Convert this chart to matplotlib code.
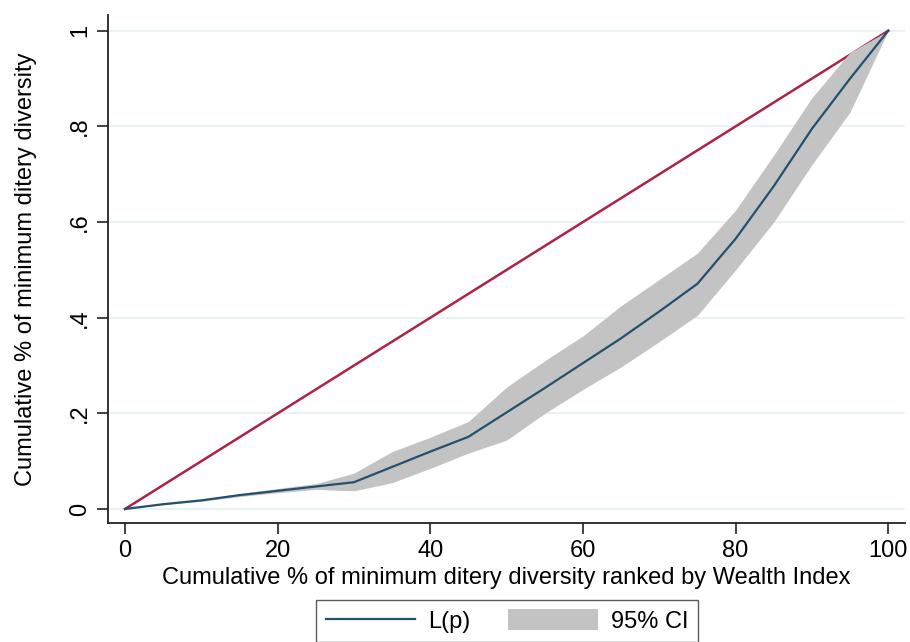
import matplotlib
matplotlib.use("Agg")
import matplotlib.pyplot as plt
from matplotlib.patches import Patch
from matplotlib.lines import Line2D

plt.rcParams['font.family'] = ['Liberation Sans', 'DejaVu Sans']

# Cumulative population share (%) ranked by wealth index
pop_pct = [0, 5, 10, 15, 20, 25, 30, 35, 40, 45, 50, 55, 60, 65, 70, 75, 80, 85, 90, 95, 100]
# Generalised Lorenz ordinate L(p)
lorenz = [0, 0.010, 0.018, 0.029, 0.038, 0.047, 0.056, 0.088, 0.120, 0.151, 0.202,
          0.253, 0.305, 0.357, 0.413, 0.471, 0.565, 0.675, 0.795, 0.900, 1.0]
# 95% confidence band
ci_upper = [0, 0.011, 0.020, 0.032, 0.043, 0.053, 0.075, 0.120, 0.150, 0.183, 0.255,
            0.310, 0.362, 0.425, 0.480, 0.535, 0.625, 0.740, 0.860, 0.955, 1.0]
ci_lower = [0, 0.009, 0.016, 0.026, 0.034, 0.041, 0.038, 0.055, 0.085, 0.117, 0.144,
            0.200, 0.250, 0.297, 0.350, 0.405, 0.500, 0.600, 0.720, 0.830, 1.0]
# Line of equality
equal_x = [0, 100]
equal_y = [0, 1]

x_ticks = [0, 20, 40, 60, 80, 100]
y_ticks = [0, 0.2, 0.4, 0.6, 0.8, 1.0]
y_tick_labels = ["0", ".2", ".4", ".6", ".8", "1"]

navy = "#24506f"
red = "#ad2245"
band = "#c3c3c3"
grid = "#e8f0f1"

fig = plt.figure(figsize=(9.1, 6.42), dpi=100)
ax = fig.add_axes([108 / 910, 1 - 523 / 642, (905 - 108) / 910, (523 - 15) / 642])

ax.set_xlim(-2.23, 102.2)
ax.set_ylim(-0.0293, 1.033)

for yv in y_ticks:
    ax.axhline(yv, color=grid, lw=1.2, zorder=0)

ax.plot(equal_x, equal_y, color=red, lw=1.8, zorder=2)
ax.fill_between(pop_pct, ci_lower, ci_upper, color=band, lw=0, zorder=3)
ax.plot(pop_pct, lorenz, color=navy, lw=1.6, zorder=4)

for s in ("top", "right"):
    ax.spines[s].set_visible(False)
for s in ("left", "bottom"):
    ax.spines[s].set_color("#222222")
    ax.spines[s].set_linewidth(1.3)

ax.set_xticks(x_ticks)
ax.set_xticklabels([str(v) for v in x_ticks])
ax.set_yticks(y_ticks)
ax.set_yticklabels(y_tick_labels, rotation=90, va="center")
ax.tick_params(axis="both", direction="out", length=8, width=1.2, color="#222222",
               labelsize=17, pad=4)

ax.set_xlabel("Cumulative % of minimum ditery diversity ranked by Wealth Index",
              fontsize=17, labelpad=4)
ax.set_ylabel("Cumulative % of minimum ditery diversity", fontsize=17, labelpad=23)

handles = [Line2D([0], [0], color=navy, lw=1.6),
           Patch(facecolor=band, edgecolor="none")]
leg = fig.legend(handles, ["L(p)", "95% CI"], loc="upper center",
                 bbox_to_anchor=(507 / 910, 1 - 600 / 642), borderaxespad=0,
                 ncol=2, fontsize=17, frameon=True, fancybox=False,
                 handlelength=3.8, handleheight=0.95, handletextpad=0.55,
                 columnspacing=1.6, borderpad=0.4)
leg.get_frame().set_edgecolor("#333333")
leg.get_frame().set_linewidth(1.0)

fig.savefig("out.png", dpi=100)
